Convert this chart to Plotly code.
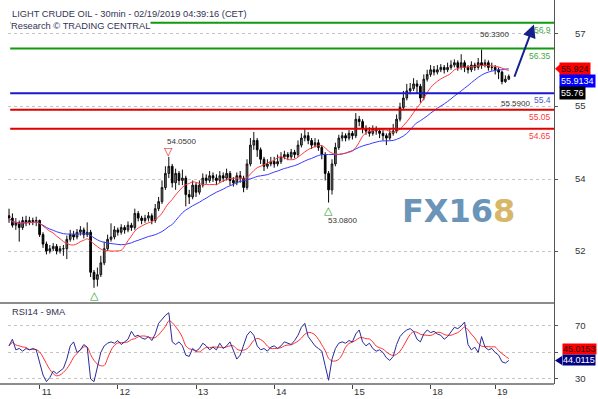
import plotly.graph_objects as go
from plotly.subplots import make_subplots
import pandas as pd

# ---------------- data (hourly bars) ----------------
bar_index = list(range(148))
first_open = 52.80
close = [
    52.75, 52.60, 52.65, 52.55, 52.70, 52.65, 52.70, 52.68, 52.70, 52.40,
    52.20, 52.05, 52.10, 52.15, 52.05, 52.10, 52.10, 52.30, 52.40, 52.35,
    52.45, 52.50, 52.40, 52.45, 51.60, 51.45, 51.55, 51.80, 52.10, 52.30,
    52.35, 52.50, 52.45, 52.55, 52.50, 52.60, 52.55, 52.85, 52.75, 52.70,
    52.75, 52.80, 52.70, 52.95, 53.10, 53.40, 53.70, 53.85, 53.50, 53.70,
    53.55, 53.60, 53.25, 53.20, 53.45, 53.30, 53.45, 53.60, 53.55, 53.65,
    53.60, 53.55, 53.65, 53.60, 53.70, 53.55, 53.50, 53.65, 53.60, 53.40,
    53.90, 54.30, 54.40, 54.20, 54.00, 53.85, 53.90, 53.95, 53.90, 53.95,
    54.05, 54.10, 54.05, 54.15, 54.10, 54.30, 54.45, 54.50, 54.40, 54.30,
    54.35, 54.25, 54.10, 53.70, 53.35, 53.90, 54.25, 54.45, 54.50, 54.45,
    54.55, 54.50, 54.85, 54.80, 54.65, 54.60, 54.55, 54.65, 54.60, 54.55,
    54.50, 54.45, 54.55, 54.60, 54.85, 55.10, 55.30, 55.45, 55.50, 55.60,
    55.55, 55.30, 55.70, 55.80, 55.90, 55.85, 55.90, 55.95, 55.90, 55.95,
    56.00, 56.05, 55.95, 56.05, 55.95, 55.90, 56.00, 55.95, 56.05, 56.00,
    56.05, 55.95, 55.95, 55.90, 55.85, 55.65, 55.70, 55.76,
]
high = [
    52.95, 52.85, 52.75, 52.70, 52.78, 52.80, 52.78, 52.76, 52.78, 52.72,
    52.45, 52.25, 52.18, 52.22, 52.20, 52.16, 52.18, 52.38, 52.50, 52.48,
    52.52, 52.58, 52.55, 52.66, 52.50, 51.65, 51.70, 51.95, 52.25, 52.40,
    52.64, 52.58, 52.55, 52.62, 52.60, 52.68, 52.65, 52.95, 52.90, 52.80,
    52.82, 52.88, 52.85, 53.05, 53.20, 53.55, 53.85, 54.05, 53.90, 53.80,
    53.75, 53.78, 53.65, 53.35, 53.55, 53.50, 53.55, 53.70, 53.68, 53.75,
    53.72, 53.68, 53.75, 53.72, 53.80, 53.75, 53.62, 53.72, 53.75, 53.65,
    54.00, 54.45, 54.58, 54.45, 54.25, 54.05, 54.00, 54.05, 54.05, 54.10,
    54.15, 54.18, 54.15, 54.22, 54.20, 54.40, 54.55, 54.64, 54.58, 54.45,
    54.45, 54.42, 54.30, 54.15, 53.75, 54.00, 54.35, 54.52, 54.58, 54.55,
    54.62, 54.60, 54.98, 54.92, 54.85, 54.72, 54.68, 54.72, 54.70, 54.65,
    54.62, 54.55, 54.65, 54.75, 54.95, 55.20, 55.45, 55.60, 55.62, 55.72,
    55.68, 55.60, 55.80, 55.90, 56.00, 55.98, 56.00, 56.02, 56.00, 56.05,
    56.10, 56.12, 56.10, 56.23, 56.10, 56.00, 56.08, 56.05, 56.15, 56.33,
    56.12, 56.10, 56.05, 56.00, 55.95, 55.88, 55.78, 55.80,
]
low = [
    52.65, 52.55, 52.50, 52.25, 52.50, 52.58, 52.60, 52.60, 52.58, 52.35,
    52.12, 51.98, 52.00, 52.05, 51.98, 52.00, 51.95, 51.88, 52.25, 52.28,
    52.30, 52.38, 52.32, 52.35, 51.50, 51.27, 51.30, 51.50, 51.75, 52.05,
    52.25, 52.30, 52.38, 52.40, 52.42, 52.45, 52.48, 52.50, 52.68, 52.62,
    52.65, 52.68, 52.62, 52.65, 52.90, 53.05, 53.35, 53.60, 53.40, 53.35,
    53.45, 53.45, 53.00, 53.05, 53.15, 53.20, 53.25, 53.40, 53.48, 53.50,
    53.52, 53.45, 53.50, 53.52, 53.55, 53.45, 53.42, 53.45, 53.50, 53.30,
    53.35, 53.85, 54.20, 54.05, 53.90, 53.75, 53.80, 53.85, 53.82, 53.85,
    53.90, 54.00, 53.98, 54.00, 54.02, 54.05, 54.25, 54.38, 54.32, 54.22,
    54.25, 54.18, 54.00, 53.55, 53.08, 53.25, 53.85, 54.20, 54.38, 54.38,
    54.40, 54.42, 54.45, 54.70, 54.55, 54.52, 54.48, 54.50, 54.52, 54.45,
    54.40, 54.30, 54.40, 54.50, 54.55, 54.80, 55.05, 55.25, 55.38, 55.45,
    55.40, 55.20, 55.25, 55.65, 55.75, 55.78, 55.80, 55.85, 55.82, 55.85,
    55.90, 55.95, 55.88, 55.90, 55.85, 55.82, 55.85, 55.88, 55.90, 55.92,
    55.95, 55.88, 55.88, 55.80, 55.70, 55.59, 55.62, 55.68,
]
rsi14 = [
    55, 60, 52, 53, 51, 53, 52, 53, 52, 42,
    33, 28, 31, 36, 34, 36, 38, 45, 55, 58,
    50, 52, 56, 54, 30, 28, 38, 50, 55, 57,
    58, 57, 59, 56, 58, 60, 66, 62, 63, 61,
    60, 62, 59, 64, 72, 75, 78, 80, 58, 56,
    58, 55, 48, 47, 53, 51, 53, 57, 55, 52,
    54, 52, 57, 53, 55, 58, 52, 45, 48, 56,
    63, 66, 63, 55, 52, 53, 51, 54, 55, 53,
    55, 58, 57, 56, 59, 63, 69, 72, 62, 58,
    55, 53, 51, 40, 29, 45, 53, 57, 58, 57,
    59, 58, 64, 67, 58, 55, 57, 53, 51, 52,
    50, 46, 44, 47, 56, 62, 65, 67, 68, 66,
    60, 58, 64, 67, 65, 66, 64, 63, 60, 62,
    66, 69, 68, 70, 73, 56, 52, 54, 50, 62,
    54, 52, 53, 50, 48, 43, 42, 44,
]

day_tick_bars = [9, 32, 55, 78, 101, 124, 143]
day_tick_labels = ["11", "12", "13", "14", "15", "18", "19"]
price_tick_vals = [52.05, 53.58, 55.13, 56.66]
price_tick_labels = ["52", "54", "55", "57"]
rsi_tick_vals = [30, 50, 70]
rsi_tick_labels = ["30", "", "70"]

green_levels = [56.9, 56.35]
blue_levels = [55.4]
red_levels = [55.05, 54.65]

swing_bars = [47, 94, 25, 139, 145]
swing_prices = [54.05, 53.08, 51.27, 56.33, 55.59]
swing_texts = ["54.0500", "53.0800", "", "56.3300", "55.5900"]
swing_marks = ["▽", "△", "△", "", ""]

price_tags = [55.924, 55.9134, 55.76]
price_tag_texts = ["55.924", "55.9134", "55.76"]
rsi_tags = [45.0153, 44.0115]
rsi_tag_texts = ["45.0153", "44.0115"]

projection_bars = [148.5, 154.4]
projection_prices = [55.72, 56.86]

FONT = "Liberation Sans, Arial, sans-serif"

# ---------------- derived series ----------------
opens = [first_open] + close[:-1]
cs = pd.Series(close)
ma_fast = cs.rolling(10, min_periods=1).mean()
ma_slow = cs.rolling(25, min_periods=1).mean()
rsi_ma = pd.Series(rsi14).rolling(5, min_periods=1).mean()

fig = make_subplots(rows=2, cols=1, shared_xaxes=True, vertical_spacing=0)

fig.add_trace(go.Candlestick(
    x=bar_index, open=opens, high=high, low=low, close=close,
    increasing=dict(line=dict(color="#111111", width=1), fillcolor="#777777"),
    decreasing=dict(line=dict(color="#000000", width=1), fillcolor="#000000"),
    whiskerwidth=0, showlegend=False, hoverinfo="skip"), row=1, col=1)
fig.add_trace(go.Scatter(x=bar_index, y=ma_slow, mode="lines",
                         line=dict(color="#3a3aff", width=1, shape="spline"),
                         showlegend=False, hoverinfo="skip"), row=1, col=1)
fig.add_trace(go.Scatter(x=bar_index, y=ma_fast, mode="lines",
                         line=dict(color="#ff3a3a", width=1, shape="spline"),
                         showlegend=False, hoverinfo="skip"), row=1, col=1)

fig.add_trace(go.Scatter(x=bar_index, y=rsi_ma, mode="lines",
                         line=dict(color="#ff3030", width=1, shape="spline"),
                         showlegend=False, hoverinfo="skip"), row=2, col=1)
fig.add_trace(go.Scatter(x=bar_index, y=rsi14, mode="lines",
                         line=dict(color="#2a2a9a", width=1),
                         showlegend=False, hoverinfo="skip"), row=2, col=1)

PLOT_H = 384.0
split = 81.0 / PLOT_H

fig.update_layout(
    width=598, height=399,
    margin=dict(l=8, r=44, t=0, b=15, autoexpand=False),
    paper_bgcolor="white", plot_bgcolor="white",
    font=dict(family=FONT, size=10, color="#333333"),
    showlegend=False,
    xaxis=dict(range=[-0.3, 160.3], showticklabels=False, showgrid=False,
               zeroline=False, rangeslider=dict(visible=False), ticks="",
               automargin=False),
    xaxis2=dict(range=[-0.3, 160.3], showgrid=False, zeroline=False,
                tickmode="array", tickvals=day_tick_bars, ticktext=day_tick_labels,
                ticks="outside", ticklen=4, tickcolor="#444444",
                ticklabelshift=7, ticklabelstandoff=-5,
                tickfont=dict(size=9.5, color="#333333"),
                rangeslider=dict(visible=False), automargin=False),
    yaxis=dict(domain=[split, 1], range=[50.948, 57.381], side="right",
               tickmode="array", tickvals=price_tick_vals, ticktext=price_tick_labels,
               showgrid=True, gridcolor="#c4c4c4", griddash="dot", zeroline=False,
               showline=True, linecolor="#555555", linewidth=1,
               ticks="outside", ticklen=3, tickcolor="#555555",
               ticklabelstandoff=15, tickfont=dict(size=9.5, color="#333333"),
               automargin=False),
    yaxis2=dict(domain=[0, split], range=[26.2, 87.36], side="right",
                tickmode="array", tickvals=rsi_tick_vals, ticktext=rsi_tick_labels,
                showgrid=True, gridcolor="#c4c4c4", griddash="dot", zeroline=False,
                showline=True, linecolor="#555555", linewidth=1,
                ticks="outside", ticklen=3, tickcolor="#555555",
                ticklabelstandoff=15, tickfont=dict(size=9.5, color="#333333"),
                automargin=False),
)

shapes = []
annotations = []

# panel separators
for yp in [split, 0]:
    shapes.append(dict(type="line", xref="paper", yref="paper", x0=-0.015, x1=1,
                       y0=yp, y1=yp, line=dict(color="#8c8c8c", width=2)))

# support / resistance levels
level_sets = [(green_levels, "#119911", "#44aa44"),
              (blue_levels, "#1a1acc", "#4a5ad0"),
              (red_levels, "#e00000", "#ff3a3a")]
for levels, lc, tc in level_sets:
    for lv in levels:
        shapes.append(dict(type="line", xref="paper", yref="y", x0=0.004, x1=1,
                           y0=lv, y1=lv, line=dict(color=lc, width=2)))
        annotations.append(dict(xref="paper", yref="y", x=1, y=lv, xanchor="right",
                                yanchor="middle", xshift=-1, yshift=-7, showarrow=False,
                                text=f"{lv:g}", font=dict(size=8.5, color=tc)))

# title
annotations.append(dict(xref="paper", yref="paper", x=0.0037, y=1, yshift=-14,
                        xanchor="left", yanchor="middle", showarrow=False,
                        text="LIGHT CRUDE OIL - 30min - 02/19/2019 04:39:16 (CET)",
                        font=dict(size=9.3, color="#333355")))
annotations.append(dict(xref="paper", yref="paper", x=0.0037, y=1, yshift=-26,
                        xanchor="left", yanchor="middle", showarrow=False,
                        bgcolor="white", borderpad=0,
                        text="Research © TRADING CENTRAL",
                        font=dict(size=9.3, color="#333355")))
annotations.append(dict(xref="paper", yref="paper", x=0.0037, y=split, yshift=-9,
                        xanchor="left", yanchor="middle", showarrow=False,
                        text="RSI14 - 9MA", font=dict(size=9.3, color="#333355")))

# swing points
mark_shift = {"▽": 5, "△": -8}
text_shift = {"54.0500": (15, -4, "left"), "53.0800": (-18, -3, "left"),
              "56.3300": (15, -4, "left"), "55.5900": (-19, -3, "left")}
for b, p, t, m in zip(swing_bars, swing_prices, swing_texts, swing_marks):
    if m:
        col = "#e02020" if m == "▽" else "#1a9a1a"
        annotations.append(dict(xref="x", yref="y", x=b, y=p, showarrow=False,
                                yshift=mark_shift[m], text=m,
                                font=dict(family="DejaVu Sans", size=11, color=col)))
    if t:
        ys, xs, anc = text_shift[t]
        annotations.append(dict(xref="x", yref="y", x=b, y=p, showarrow=False,
                                xanchor=anc, xshift=xs, yshift=ys, text=t,
                                font=dict(size=8, color="#333333")))

# projection arrow
annotations.append(dict(xref="x", yref="y", axref="x", ayref="y",
                        x=projection_bars[1], y=projection_prices[1],
                        ax=projection_bars[0], ay=projection_prices[0],
                        showarrow=True, arrowhead=2, arrowsize=1.3, arrowwidth=2,
                        arrowcolor="#15208a", text=""))

# price tags on the right axis
tag_style = [("#ff0000", "#300000", 0), ("#0000ff", "#ffffff", -12), ("#000000", "#ffffff", -24)]
for v, t, (bg, fc, ys) in zip(price_tags, price_tag_texts, tag_style):
    annotations.append(dict(xref="paper", yref="y", x=1, y=price_tags[0], xanchor="left",
                            yanchor="middle", xshift=5, yshift=ys, showarrow=False,
                            text=t, bgcolor=bg, borderpad=1,
                            font=dict(size=9, color=fc)))
shapes.append(dict(type="path", xref="paper", yref="y", xsizemode="pixel", ysizemode="pixel",
                   xanchor=1, yanchor=price_tags[0], path="M 1 0 L 6 4.5 L 6 -4.5 Z",
                   fillcolor="#ff0000", line=dict(width=0)))

rsi_style = [("#ff0000", "#300000", 10), ("#000080", "#ffffff", 0)]
for v, t, (bg, fc, ys) in zip(rsi_tags, rsi_tag_texts, rsi_style):
    annotations.append(dict(xref="paper", yref="y2", x=1, y=v, xanchor="left",
                            yanchor="middle", xshift=8, yshift=ys, showarrow=False,
                            text=t, bgcolor=bg, borderpad=0,
                            font=dict(size=9, color=fc)))
shapes.append(dict(type="path", xref="paper", yref="y2", xsizemode="pixel", ysizemode="pixel",
                   xanchor=1, yanchor=rsi_tags[1], path="M 1 0 L 8 4.5 L 8 -4.5 Z",
                   fillcolor="#000080", line=dict(width=0)))

# watermark
annotations.append(dict(xref="paper", yref="paper", x=0.826, y=0.4505, showarrow=False,
                        xanchor="center", yanchor="middle",
                        text="<b>FX16<span style='color:#d8b868'>8</span></b>",
                        font=dict(family="DejaVu Sans", size=32, color="#6a94b8")))

fig.update_layout(shapes=shapes, annotations=annotations)
fig.write_html("out.html", config={"displayModeBar": False},
               post_script="document.body.style.margin='0';")
